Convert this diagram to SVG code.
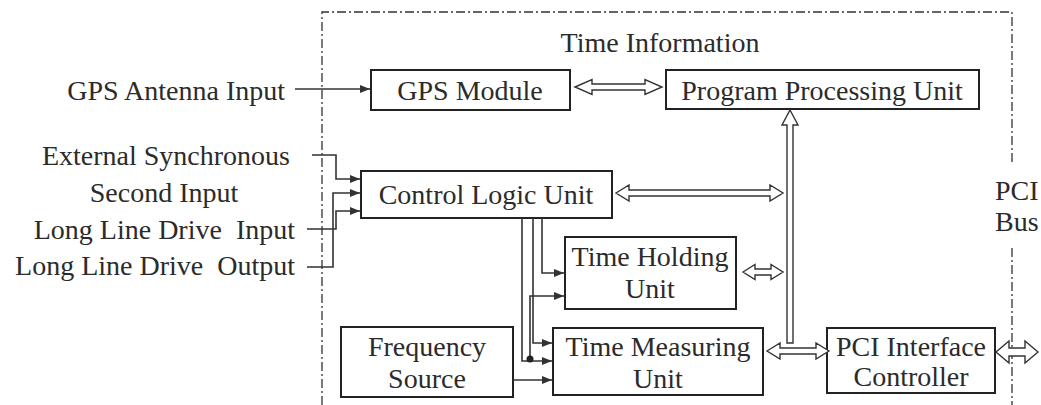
<svg xmlns="http://www.w3.org/2000/svg" width="1041" height="405" viewBox="0 0 1041 405">
  <defs>
    <marker id="arr" viewBox="0 0 10 8" refX="10" refY="4" markerWidth="10" markerHeight="8" markerUnits="userSpaceOnUse" orient="auto">
      <path d="M0,0 L10,4 L0,8 Z" fill="#333"/>
    </marker>
    <style>
      text { font-family: "Liberation Serif", "Times New Roman", serif; font-size: 28px; fill: #2b2b2b; }
      .box { fill: #fff; stroke: #222; stroke-width: 2; }
      .wire { fill: none; stroke: #333; stroke-width: 1.6; marker-end: url(#arr); }
      .bus { fill: #fff; stroke: #333; stroke-width: 1.4; stroke-linejoin: miter; }
      .border { fill: none; stroke: #333; stroke-width: 1.3; stroke-dasharray: 9 3 2 3; }
      .mid { text-anchor: middle; }
      .end { text-anchor: end; }
    </style>
  </defs>
  <rect width="1041" height="405" fill="#fff"/>

  <!-- card boundary (dash-dot), broken on the right for the bus label -->
  <g id="boundary">
    <path class="border" d="M322,405 L322,12 L1012,12 L1012,163"/>
    <path class="border" d="M1012,248 L1012,405"/>
    <text x="995" y="200">PCI</text>
    <text x="995" y="231">Bus</text>
    <text class="mid" x="660" y="52">Time Information</text>
  </g>

  <!-- external signal labels -->
  <g id="inputs">
    <text class="end" x="285" y="100">GPS Antenna Input</text>
    <text class="end" x="290" y="165">External Synchronous</text>
    <text class="mid" x="164" y="202">Second Input</text>
    <text class="end" x="295" y="239" xml:space="preserve">Long Line Drive  Input</text>
    <text class="end" x="295" y="275" xml:space="preserve">Long Line Drive  Output</text>
  </g>

  <g id="gps-module">
    <rect class="box" x="371" y="70" width="199" height="40"/>
    <text class="mid" x="470" y="100">GPS Module</text>
  </g>

  <g id="program-processing-unit">
    <rect class="box" x="666" y="70" width="313" height="39"/>
    <text class="mid" x="822" y="100">Program Processing Unit</text>
  </g>

  <g id="control-logic-unit">
    <rect class="box" x="361" y="171" width="251" height="47"/>
    <text class="mid" x="486" y="204">Control Logic Unit</text>
  </g>

  <g id="time-holding-unit">
    <rect class="box" x="565" y="237" width="171" height="72"/>
    <text class="mid" x="650" y="266">Time Holding</text>
    <text class="mid" x="650" y="298">Unit</text>
  </g>

  <g id="frequency-source">
    <rect class="box" x="341" y="327" width="172" height="70"/>
    <text class="mid" x="427" y="356">Frequency</text>
    <text class="mid" x="427" y="388">Source</text>
  </g>

  <g id="time-measuring-unit">
    <rect class="box" x="553" y="328" width="210" height="67"/>
    <text class="mid" x="658" y="356">Time Measuring</text>
    <text class="mid" x="658" y="388">Unit</text>
  </g>

  <g id="pci-interface-controller">
    <rect class="box" x="827" y="328" width="168" height="65"/>
    <text class="mid" x="911" y="356">PCI Interface</text>
    <text class="mid" x="911" y="386">Controller</text>
  </g>

  <g id="connectors">
    <!-- signal lines -->
    <path class="wire" d="M295,89 L370,89"/>
    <path class="wire" d="M312,155 L336,155 L336,179 L360,179"/>
    <path class="wire" d="M307,267 L333,267 L333,193 L360,193"/>
    <path class="wire" d="M307,229 L336,229 L336,211 L360,211"/>
    <path class="wire" d="M542,218 L542,273 L564,273"/>
    <path class="wire" d="M533,218 L533,343 L552,343"/>
    <path class="wire" d="M522,218 L522,361 L552,361"/>
    <path class="wire" d="M530,361 L530,296 L564,296"/>
    <circle cx="530" cy="359" r="3.5" fill="#222"/>
    <path class="wire" d="M513,380 L552,380"/>

    <!-- hollow data-bus arrows -->
    <path class="bus" d="M575,87 L592,79.5 L592,84 L645,84 L645,79.5 L662,87 L645,94.5 L645,90 L592,90 L592,94.5 Z"/>
    <path class="bus" d="M790,110 L798,125 L793,125 L793,343 L787,343 L787,125 L782,125 Z"/>
    <path class="bus" d="M616,193 L629,185 L629,190 L770,190 L770,185 L783,193 L770,201 L770,196 L629,196 L629,201 Z"/>
    <path class="bus" d="M743,272 L755,264.5 L755,269 L771,269 L771,264.5 L783,272 L771,279.5 L771,275 L755,275 L755,279.5 Z"/>
    <path class="bus" d="M767,351 L780,343 L780,348 L816,348 L816,343 L829,351 L816,359 L816,354 L780,354 L780,359 Z"/>
    <path class="bus" d="M996,352 L1009,341 L1009,348 L1025,348 L1025,341 L1038,352 L1025,363 L1025,356 L1009,356 L1009,363 Z"/>
  </g>
</svg>
